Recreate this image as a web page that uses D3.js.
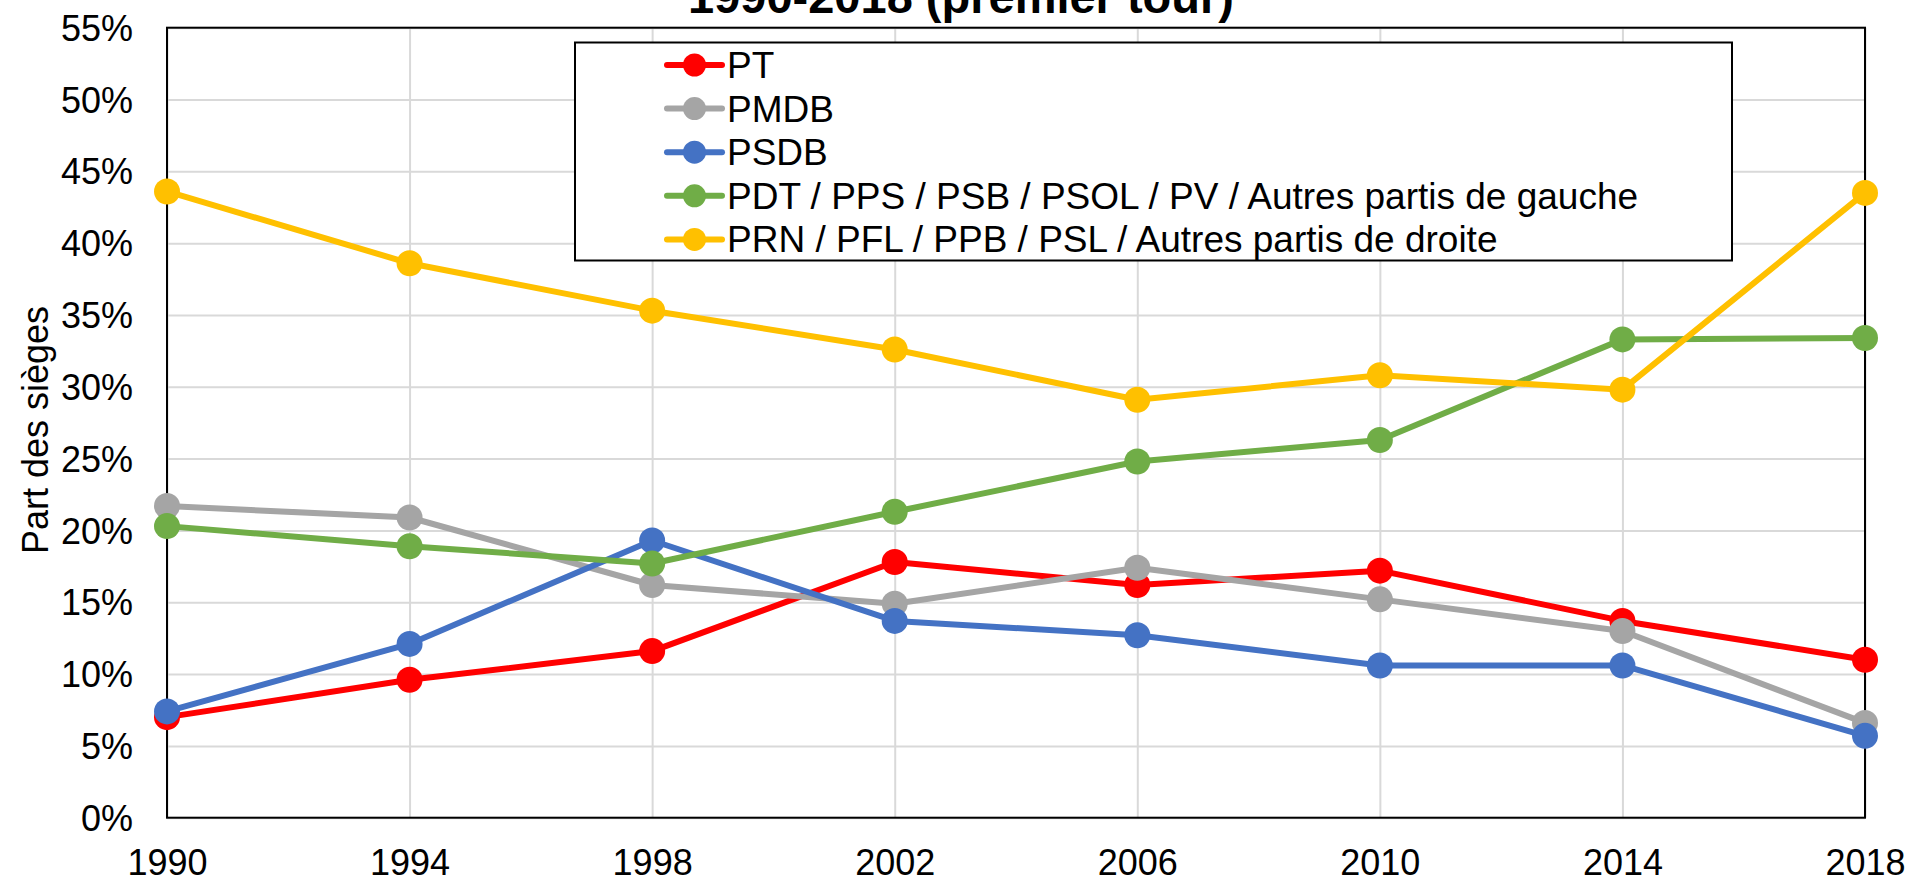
<!DOCTYPE html>
<html>

<head>
    <meta charset="UTF-8">
    <title>Part des sièges 1990-2018</title>
    <style>
        body {
            margin: 0;
            background-color: #fff;
        }

        svg {
            display: block;
            font-family: 'Liberation Sans', Arial, sans-serif;
        }
    </style>
</head>

<body>
    <svg width="1910" height="878"></svg>
    <script src="https://d3js.org/d3.v7.min.js"></script>
    <script>
        // data (share of seats, first round)
        let years = [1990, 1994, 1998, 2002, 2006, 2010, 2014, 2018];
        let yTicks = [0, 0.05, 0.10, 0.15, 0.20, 0.25, 0.30, 0.35, 0.40, 0.45, 0.50, 0.55];
        let seriesNames = [
            "PT",
            "PMDB",
            "PSDB",
            "PDT / PPS / PSB / PSOL / PV / Autres partis de gauche",
            "PRN / PFL / PPB / PSL / Autres partis de droite"
        ];
        let seriesColors = ["#ff0000", "#a5a5a5", "#4472c4", "#70ad47", "#ffc000"];
        let ptValues = [0.070, 0.096, 0.116, 0.178, 0.162, 0.172, 0.137, 0.110];
        let pmdbValues = [0.217, 0.209, 0.162, 0.149, 0.174, 0.152, 0.130, 0.066];
        let psdbValues = [0.074, 0.121, 0.193, 0.137, 0.127, 0.106, 0.106, 0.057];
        let gaucheValues = [0.203, 0.189, 0.177, 0.213, 0.248, 0.263, 0.333, 0.334];
        let droiteValues = [0.436, 0.386, 0.353, 0.326, 0.291, 0.308, 0.298, 0.435];

        let allValues = [ptValues, pmdbValues, psdbValues, gaucheValues, droiteValues];
        let series = seriesNames.map((name, i) => ({
            name: name,
            color: seriesColors[i],
            points: years.map((y, j) => ({ year: y, value: allValues[i][j] }))
        }));

        let svg = d3.select("svg");
        let plotLeft = 167, plotRight = 1865, plotTop = 27.7, plotBottom = 817.7;

        let x = d3.scaleLinear().domain([1990, 2018]).range([plotLeft, plotRight]);
        let y = d3.scaleLinear().domain([0, 0.55]).range([plotBottom, plotTop]);

        // title (only its lower part is visible)
        svg.append("text")
            .attr("x", 961)
            .attr("y", 13)
            .attr("text-anchor", "middle")
            .attr("font-size", 47)
            .attr("font-weight", "bold")
            .text("1990-2018 (premier tour)");

        // gridlines
        svg.append("g")
            .attr("transform", `translate(${plotLeft},0)`)
            .call(d3.axisLeft(y).tickValues(yTicks).tickSize(-(plotRight - plotLeft)).tickFormat(""))
            .call(g => g.select(".domain").remove())
            .call(g => g.selectAll("line").attr("stroke", "#d9d9d9").attr("stroke-width", 2));

        svg.append("g")
            .attr("transform", `translate(0,${plotBottom})`)
            .call(d3.axisBottom(x).tickValues(years).tickSize(-(plotBottom - plotTop)).tickFormat(""))
            .call(g => g.select(".domain").remove())
            .call(g => g.selectAll("line").attr("stroke", "#d9d9d9").attr("stroke-width", 2));

        // plot border
        svg.append("rect")
            .attr("x", plotLeft)
            .attr("y", plotTop)
            .attr("width", plotRight - plotLeft)
            .attr("height", plotBottom - plotTop)
            .attr("fill", "none")
            .attr("stroke", "#000")
            .attr("stroke-width", 2);

        // axis labels
        svg.append("g")
            .attr("transform", `translate(${plotLeft - 34},0)`)
            .call(d3.axisLeft(y).tickValues(yTicks).tickSize(0).tickFormat(d3.format(".0%")))
            .call(g => g.select(".domain").remove())
            .call(g => g.selectAll("text")
                .attr("x", 0)
                .attr("dy", "0.35em")
                .attr("font-size", 36)
                .attr("font-family", "'Liberation Sans', Arial, sans-serif")
                .attr("fill", "#000"));

        svg.append("g")
            .attr("transform", `translate(0,${plotBottom})`)
            .call(d3.axisBottom(x).tickValues(years).tickSize(0).tickFormat(d3.format("d")))
            .call(g => g.select(".domain").remove())
            .call(g => g.selectAll("text")
                .attr("y", 57)
                .attr("dy", 0)
                .attr("font-size", 36)
                .attr("font-family", "'Liberation Sans', Arial, sans-serif")
                .attr("fill", "#000"));

        svg.append("text")
            .attr("transform", "translate(48,430) rotate(-90)")
            .attr("text-anchor", "middle")
            .attr("font-size", 36)
            .text("Part des sièges");

        // lines and markers
        let line = d3.line()
            .x(d => x(d.year))
            .y(d => y(d.value));

        series.forEach(s => {
            let g = svg.append("g");
            g.append("path")
                .datum(s.points)
                .attr("d", line)
                .attr("fill", "none")
                .attr("stroke", s.color)
                .attr("stroke-width", 6)
                .attr("stroke-linejoin", "round");
            g.selectAll("circle")
                .data(s.points)
                .enter().append("circle")
                .attr("cx", d => x(d.year))
                .attr("cy", d => y(d.value))
                .attr("r", 13)
                .attr("fill", s.color);
        });

        // legend
        let legend = svg.append("g");
        legend.append("rect")
            .attr("x", 575)
            .attr("y", 42.5)
            .attr("width", 1157)
            .attr("height", 218)
            .attr("fill", "#fff")
            .attr("stroke", "#000")
            .attr("stroke-width", 2);

        let rows = legend.selectAll("g.row")
            .data(series)
            .enter().append("g")
            .attr("class", "row")
            .attr("transform", (d, i) => `translate(0,${65 + i * 43.6})`);

        rows.append("line")
            .attr("x1", 667)
            .attr("x2", 722)
            .attr("stroke", d => d.color)
            .attr("stroke-width", 6)
            .attr("stroke-linecap", "round");
        rows.append("circle")
            .attr("cx", 694.5)
            .attr("r", 11.5)
            .attr("fill", d => d.color);
        rows.append("text")
            .attr("x", 727)
            .attr("dy", "0.35em")
            .attr("font-size", 37)
            .text(d => d.name);
    </script>
</body>

</html>
